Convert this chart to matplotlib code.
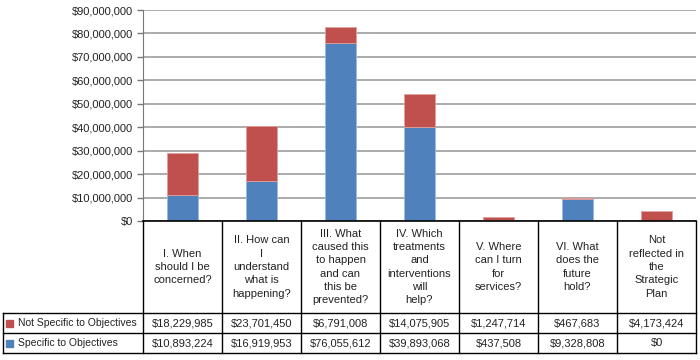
import matplotlib
matplotlib.use("Agg")
import matplotlib.pyplot as plt
import matplotlib.transforms as mtransforms
from matplotlib.lines import Line2D
from matplotlib.patches import Rectangle

plt.rcParams['font.family'] = ['Liberation Sans', 'DejaVu Sans']

categories = [
    "I. When\nshould I be\nconcerned?",
    "II. How can\nI\nunderstand\nwhat is\nhappening?",
    "III. What\ncaused this\nto happen\nand can\nthis be\nprevented?",
    "IV. Which\ntreatments\nand\ninterventions\nwill\nhelp?",
    "V. Where\ncan I turn\nfor\nservices?",
    "VI. What\ndoes the\nfuture\nhold?",
    "Not\nreflected in\nthe\nStrategic\nPlan",
]
series_names = ["Not Specific to Objectives", "Specific to Objectives"]
not_specific = [18229985, 23701450, 6791008, 14075905, 1247714, 467683, 4173424]
specific = [10893224, 16919953, 76055612, 39893068, 437508, 9328808, 0]
yticks = [0, 10e6, 20e6, 30e6, 40e6, 50e6, 60e6, 70e6, 80e6, 90e6]

RED = "#C0504D"
BLUE = "#4F81BD"
W, H = 700, 360

fig = plt.figure(figsize=(7, 3.6), dpi=100)

def fx(px):
    return px / W

def fy(py):
    return 1 - py / H

left, right, top, bottom = 143, 696, 10, 221
ax = fig.add_axes([fx(left), fy(bottom), fx(right - left), (bottom - top) / H])
x = list(range(len(categories)))
ax.bar(x, specific, width=0.4, color=BLUE, edgecolor="#9DB9DC", linewidth=0.6, zorder=3)
ax.bar(x, not_specific, width=0.4, bottom=specific, color=RED, edgecolor="#E0A09E", linewidth=0.6, zorder=3)
ax.set_xlim(-0.5, len(categories) - 0.5)
ax.set_ylim(0, 90e6)
ax.set_yticks(yticks)
ax.set_yticklabels(["${:,.0f}".format(v) for v in yticks], fontsize=8, color="#222222")
ax.tick_params(axis='y', length=4, width=1, color="#777777", pad=3)
ax.set_xticks([])
ax.grid(axis='y', color="#ABABAB", linewidth=1.4, zorder=0)
for s in ['top', 'right']:
    ax.spines[s].set_visible(False)
ax.spines['left'].set_color("#777777")
ax.spines['bottom'].set_color("#000000")
ax.spines['bottom'].set_linewidth(1.2)
ax.spines['bottom'].set_zorder(4)

# table
blend = mtransforms.blended_transform_factory(ax.transData, fig.transFigure)
row1, row2, row3 = 313, 333, 353
lc = "#000000"
for i in range(len(categories) + 1):
    xv = i - 0.5
    fig.add_artist(Line2D([xv, xv], [fy(bottom), fy(row3)], transform=blend, color=lc, lw=1))
for yy in [row1, row2, row3]:
    fig.add_artist(Line2D([fx(3), fx(right)], [fy(yy), fy(yy)], transform=fig.transFigure, color=lc, lw=1))
fig.add_artist(Line2D([fx(3), fx(3)], [fy(row1), fy(row3)], transform=fig.transFigure, color=lc, lw=1))

for i, c in enumerate(categories):
    fig.text(i, fy((bottom + row1) / 2), c, transform=blend, ha='center', va='center',
             fontsize=8, linespacing=1.42, color="#222222")

rows = [(not_specific, RED, series_names[0], row1), (specific, BLUE, series_names[1], row2)]
for vals, col, name, ytop in rows:
    yc = fy(ytop + 10)
    fig.add_artist(Rectangle((fx(6), yc - 3.5 / H), 7 / W, 7 / H, transform=fig.transFigure,
                             color=col))
    fig.text(fx(18), yc, name, ha='left', va='center', fontsize=7.5, color="#222222")
    for i, v in enumerate(vals):
        fig.text(i, yc, "${:,.0f}".format(v), transform=blend, ha='center', va='center',
                 fontsize=8, color="#222222")

fig.savefig("out.png", dpi=100)
